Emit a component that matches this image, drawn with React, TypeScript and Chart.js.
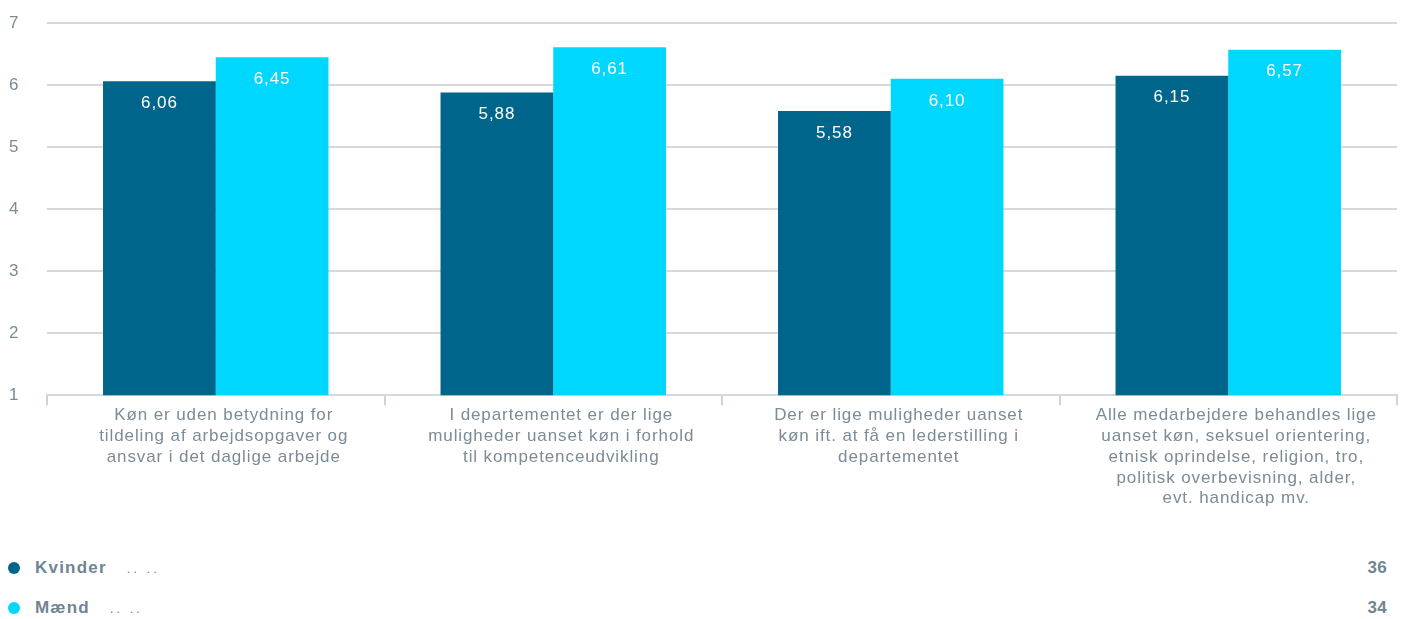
import React, { useEffect, useRef } from "react";
import { Chart, registerables } from "chart.js";

Chart.register(...registerables);

const categories: string[][] = [
  ["Køn er uden betydning for", "tildeling af arbejdsopgaver og", "ansvar i det daglige arbejde"],
  ["I departementet er der lige", "muligheder uanset køn i forhold", "til kompetenceudvikling"],
  ["Der er lige muligheder uanset", "køn ift. at få en lederstilling i", "departementet"],
  ["Alle medarbejdere behandles lige", "uanset køn, seksuel orientering,", "etnisk oprindelse, religion, tro,", "politisk overbevisning, alder,", "evt. handicap mv."],
];
const kvinder = [6.06, 5.88, 5.58, 6.15];
const maend = [6.45, 6.61, 6.1, 6.57];
const seriesNames = ["Kvinder", "Mænd"];
const seriesCounts = [36, 34];
const seriesColors = ["#00658B", "#00D7FF"];
const yMin = 1;
const yMax = 7;

const FONT = "'Liberation Sans', Arial, sans-serif";
const GREY = "#7b8b97";
const SPACING = "0.9px";

const spacingPlugin = {
  id: "spacing",
  beforeUpdate(chart: any) {
    (chart.ctx as any).letterSpacing = SPACING;
  },
  beforeDraw(chart: any) {
    (chart.ctx as any).letterSpacing = SPACING;
    const xs = chart.scales.x;
    if (xs && xs.getLabelItems) {
      const items = xs.getLabelItems(chart.chartArea);
      items.forEach((it: any) => {
        if (!it.__shifted) {
          it.options.translation = [it.options.translation[0] + 8, it.options.translation[1]];
          it.__shifted = true;
        }
      });
    }
  },
};

const valueLabels = {
  id: "valueLabels",
  afterDatasetsDraw(chart: any) {
    const ctx = chart.ctx;
    ctx.save();
    (ctx as any).letterSpacing = SPACING;
    ctx.fillStyle = "#ffffff";
    ctx.font = `17px ${FONT}`;
    ctx.textAlign = "center";
    ctx.textBaseline = "middle";
    chart.data.datasets.forEach((ds: any, i: number) => {
      const meta = chart.getDatasetMeta(i);
      meta.data.forEach((bar: any, j: number) => {
        const v = ds.data[j] as number;
        ctx.fillText(v.toFixed(2).replace(".", ","), bar.x, bar.y + 22);
      });
    });
    ctx.restore();
  },
};

export default function App() {
  const ref = useRef<HTMLCanvasElement | null>(null);
  useEffect(() => {
    if (!ref.current) return;
    const chart = new Chart(ref.current, {
      type: "bar",
      data: {
        labels: categories,
        datasets: [
          { label: seriesNames[0], data: kvinder, backgroundColor: seriesColors[0] },
          { label: seriesNames[1], data: maend, backgroundColor: seriesColors[1] },
        ],
      },
      options: {
        animation: false,
        responsive: false,
        maintainAspectRatio: false,
        layout: { padding: { top: 23, right: 7, left: 9, bottom: 0 } },
        plugins: { legend: { display: false }, tooltip: { enabled: false } },
        datasets: { bar: { barPercentage: 1, categoryPercentage: 0.668 } } as any,
        scales: {
          x: {
            grid: {
              display: true,
              drawOnChartArea: false,
              drawTicks: true,
              tickLength: 10,
              color: "#c9d4de",
              lineWidth: 2,
            },
            border: { display: true, color: "#d6d9dc", width: 2 },
            ticks: {
              color: GREY,
              font: { family: FONT, size: 17, lineHeight: 1.22 },
              padding: 0,
              maxRotation: 0,
              autoSkip: false,
            },
          },
          y: {
            min: yMin,
            max: yMax,
            afterFit(axis: any) {
              axis.width = 38;
            },
            grid: { color: "#d9d9d9", lineWidth: 2, drawTicks: false },
            border: { display: false },
            ticks: {
              stepSize: 1,
              color: GREY,
              crossAlign: "far",
              padding: 10,
              font: { family: FONT, size: 17 },
            },
          },
        },
      },
      plugins: [spacingPlugin, valueLabels],
    });
    return () => chart.destroy();
  }, []);

  const legendRow = (i: number, top: number) => (
    <div
      key={i}
      style={{
        position: "absolute",
        left: 0,
        top,
        width: 1404,
        height: 22,
        fontFamily: FONT,
        fontSize: 17,
        color: "#6f8591",
      }}
    >
      <span
        style={{
          position: "absolute",
          left: 8,
          top: 4,
          width: 12,
          height: 12,
          borderRadius: 6,
          background: seriesColors[i],
        }}
      />
      <span style={{ position: "absolute", left: 35, top: 0, fontWeight: "bold", whiteSpace: "nowrap", letterSpacing: "1.2px" }}>
        {seriesNames[i]}
        <span style={{ fontWeight: "normal", marginLeft: 20, fontSize: 13, letterSpacing: "3px" }}>.. ..</span>
      </span>
      <span style={{ position: "absolute", right: 17, top: 0, fontWeight: "bold", letterSpacing: "0.3px" }}>
        {seriesCounts[i]}
      </span>
    </div>
  );

  return (
    <div style={{ position: "absolute", left: 0, top: 0, width: 1404, height: 619, background: "#fff", overflow: "hidden" }}>
      <canvas ref={ref} width={1404} height={509} style={{ position: "absolute", left: 0, top: 0 }} />
      {legendRow(0, 558)}
      {legendRow(1, 598)}
    </div>
  );
}
